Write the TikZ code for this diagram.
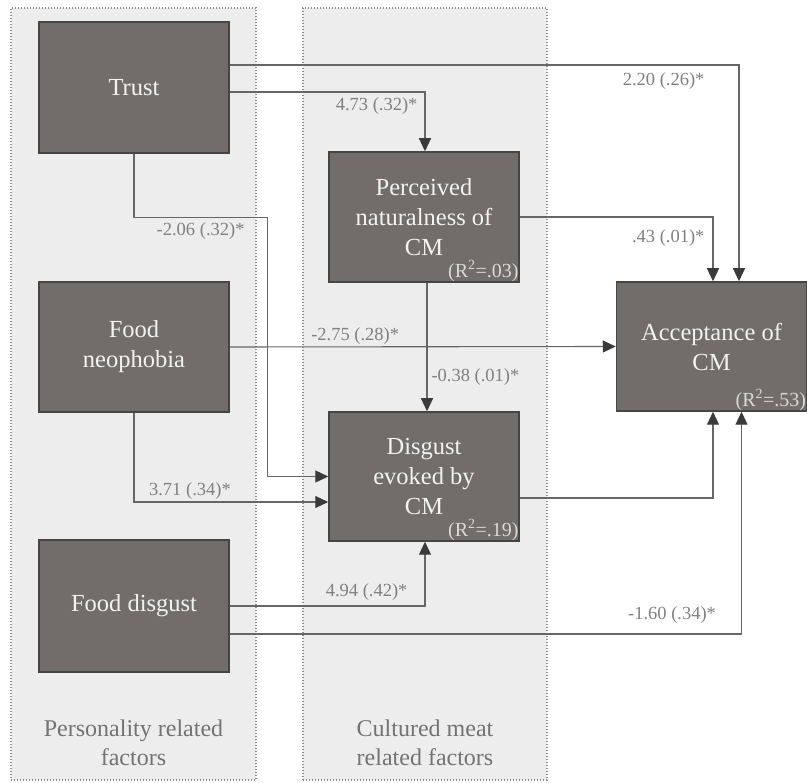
\documentclass[tikz,border=0pt]{standalone}
\usepackage{fontspec}
\setmainfont{Liberation Serif}
\usetikzlibrary{arrows.meta,positioning,calc}

\definecolor{boxfill}{HTML}{726D6B}
\definecolor{boxline}{HTML}{454545}
\definecolor{panelfill}{HTML}{EDEDED}
\definecolor{panelline}{HTML}{8C8C8C}
\definecolor{linecol}{HTML}{666666}
\definecolor{tipcol}{HTML}{3A3A3A}
\definecolor{lblcol}{HTML}{808080}

\tikzset{
  factor/.style={draw=boxline, line width=1.5pt, fill=boxfill, text=white!95!black, minimum width=190pt, minimum height=131pt, align=center, inner sep=0pt, font=\fontsize{24.5}{30}\selectfont},
  panel/.style={draw=panelline, dash pattern=on 1.2pt off 1.8pt, line width=1.2pt, fill=panelfill, minimum height=772pt, inner sep=0pt},
  grouptitle/.style={text=lblcol!90!black, align=center, anchor=south, font=\fontsize{24}{29.5}\selectfont},
  link/.style={draw=linecol, line width=1.1pt, -{Triangle[length=13pt,width=12pt,color=tipcol]}},
  coef/.style={text=lblcol, inner sep=2pt, font=\fontsize{18.5}{22}\selectfont},
  rsq/.style={text=white!85!black, inner sep=1pt, anchor=south east, font=\fontsize{20}{22}\selectfont}
}

\begin{document}
\begin{tikzpicture}[x=1pt, y=-1pt]
  \useasboundingbox (0,0) rectangle (807,783);

  % groups
  \node[panel, minimum width=245pt] (persf) at (133.5,394) {};
  \node[panel, minimum width=244pt] (cmf) at (425,394) {};
  \node[grouptitle, yshift=11pt] (perstitle) at (persf.south) {Personality related\\factors};
  \node[grouptitle, yshift=11pt] (cmtitle) at (cmf.south) {Cultured meat\\related factors};

  % factors
  \node[factor] (trust) at (134,87.5) {Trust};
  \node[factor, minimum height=130pt] (neo) at (134,347) {Food\\neophobia};
  \node[factor, minimum height=132pt] (fdisg) at (134,606) {Food disgust};
  \node[factor, minimum height=130pt] (natur) at (424,217) {Perceived\\naturalness of\\CM};
  \node[factor, minimum height=129pt] (disg) at (424,476.5) {Disgust\\evoked by\\CM};
  \node[factor, minimum height=129pt] (accept) at (711.5,346.5) {Acceptance of\\CM};

  \node[rsq] (r2natur) at (natur.south east) {(R\textsuperscript{2}=.03)};
  \node[rsq] (r2disg) at (disg.south east) {(R\textsuperscript{2}=.19)};
  \node[rsq] (r2accept) at (accept.south east) {(R\textsuperscript{2}=.53)};

  % paths
  \draw[link] ([yshift=22.5pt]trust.east) -| node[coef, pos=0.5, below left=5pt and 32pt] {2.20 (.26)*} ([xshift=27.5pt]accept.north);
  \draw[link] ([yshift=-4.5pt]trust.east) -| node[coef, pos=0.5, below left=3pt and 5pt] {4.73 (.32)*} ([xshift=1pt]natur.north);
  \draw[link] (trust.south) -- ++(0,64) -| node[coef, pos=0.25, below=2pt] {-2.06 (.32)*} ([xshift=-61pt]disg.west) -- (disg.west);
  \draw[link] (natur.east) -| node[coef, pos=0.5, below left=10pt and 6pt] {.43 (.01)*} ([xshift=1.5pt]accept.north);
  \draw[link] ([xshift=3pt]natur.south) -- node[coef, pos=0.73, right=2pt] {-0.38 (.01)*} ([xshift=3pt]disg.north);
  \draw[link] (neo.east) -- node[coef, pos=0.325, above] {-2.75 (.28)*} (accept.west);
  \draw[link] (neo.south) |- node[coef, pos=0.644, above] {3.71 (.34)*} ([yshift=-25.5pt]disg.west);
  \draw[link] ([yshift=-21.5pt]disg.east) -| ([xshift=1.5pt]accept.south);
  \draw[link] (fdisg.east) -| node[coef, pos=0.5, above left=3pt and 15pt] {4.94 (.42)*} ([xshift=1pt]disg.south);
  \draw[link] ([yshift=-28pt]fdisg.east) -| node[coef, pos=0.5, above left=8pt and 23pt] {-1.60 (.34)*} ([xshift=30pt]accept.south);
\end{tikzpicture}
\end{document}
